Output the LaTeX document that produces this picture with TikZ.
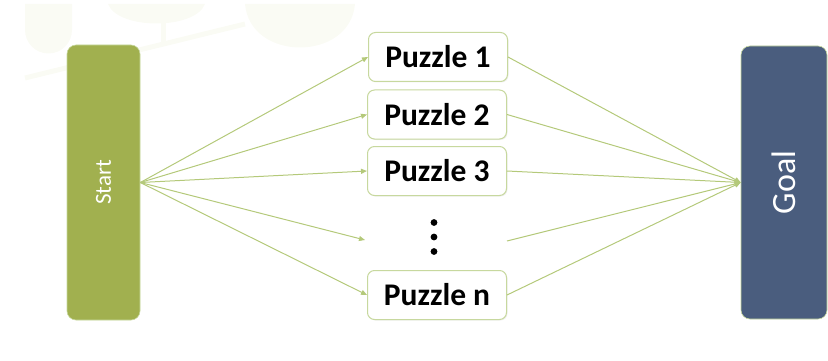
\documentclass[tikz,border=0pt]{standalone}
\usepackage{fontspec}
\setmainfont{Carlito}
\usetikzlibrary{arrows.meta,shadows}
\definecolor{startgreen}{HTML}{A1B04F}
\definecolor{goalblue}{HTML}{4A5D7E}
\definecolor{linegreen}{HTML}{B4C97A}
\definecolor{boxline}{HTML}{C7D89E}
\definecolor{bgfaint}{HTML}{FAFBF4}
\tikzset{
  side/.style={draw=boxline, line width=0.6pt, rounded corners=9pt, inner sep=0pt},
  puzzlebox/.style={draw=boxline, line width=1pt, fill=white, rounded corners=7pt, minimum width=139pt, minimum height=49pt, inner sep=0pt, font=\bfseries\fontsize{31.5}{33}\selectfont, text=black, drop shadow={shadow xshift=1pt, shadow yshift=-1pt, opacity=0.12}},
  conn/.style={draw=linegreen, line width=1pt, -{Triangle[length=6pt,width=5pt]}}
}
\begin{document}
\begin{tikzpicture}[x=1pt,y=-1pt]
\useasboundingbox (0,0) rectangle (828,361);
% faint background decoration
\begin{scope}[bgfaint]
\fill (25,4) -- (72,4) -- (72,30) arc[start angle=0,end angle=180,radius=23.5] -- cycle;
\fill (108,4) -- (205,4) .. controls (195,30) and (118,30) .. (108,4) -- cycle;
\fill (245,4) -- (355,4) .. controls (350,62) and (250,62) .. (245,4) -- cycle;
\draw[line width=5pt] (25,78) -- (245,24);
\draw[line width=5pt] (163,20) -- (163,45);
\end{scope}
\node[side, fill=startgreen, minimum width=73pt, minimum height=275pt] (start) at (103.5,182.5) {};
\node[rotate=90, text=white, font=\fontsize{23}{25}\selectfont] (starttxt) at (start.center) {Start};
\node[side, fill=goalblue, minimum width=86pt, minimum height=273pt] (goal) at (784,182.5) {};
\node[rotate=90, text=white, font=\fontsize{34}{36}\selectfont] (goaltxt) at (goal.center) {Goal};
\node[puzzlebox] (p1) at (438,57) {Puzzle 1};
\node[puzzlebox] (p2) at (437,114.5) {Puzzle 2};
\node[puzzlebox] (p3) at (437,171) {Puzzle 3};
\node[puzzlebox] (pn) at (437,295) {Puzzle n};
\node[inner sep=0pt] (dots) at (434,237) {\tikz[x=1pt,y=-1pt]{\fill (0,-14.5) circle[radius=3.4]; \fill (0,0) circle[radius=3.4]; \fill (0,14.5) circle[radius=3.4];}};
\coordinate (dl) at (365,240);
\coordinate (dr) at (507,241);
\coordinate (so) at (start.east);
\coordinate (gi) at (goal.west);
\draw[conn] (so) -- (p1.west);
\draw[conn] (so) -- (p2.west);
\draw[conn] (so) -- (p3.west);
\draw[conn] (so) -- (dl);
\draw[conn] (so) -- (pn.west);
\draw[conn] (p1.east) -- (gi);
\draw[conn] (p2.east) -- (gi);
\draw[conn] (p3.east) -- (gi);
\draw[conn] (dr) -- (gi);
\draw[conn] (pn.east) -- (gi);
\end{tikzpicture}
\end{document}
